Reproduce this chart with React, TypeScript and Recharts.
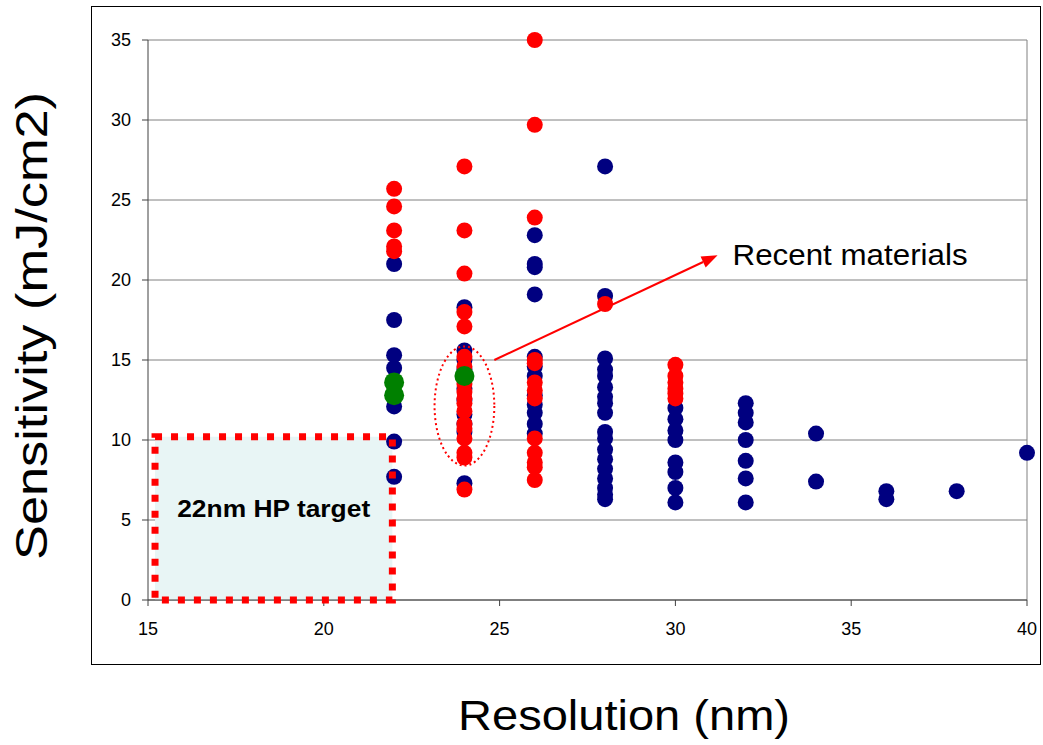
import { ScatterChart, Scatter, XAxis, YAxis, CartesianGrid, ReferenceArea, ReferenceLine } from 'recharts';

const FONT = '"Liberation Sans", Arial, sans-serif';

const resolutionTicks = [15, 20, 25, 30, 35, 40];
const sensitivityTicks = [0, 5, 10, 15, 20, 25, 30, 35];

// earlier resists: resolution column (nm) -> measured sensitivities (mJ/cm2)
const earlierRes = [22, 24, 26, 28, 30, 32, 34, 36, 38, 40];
const earlierSens = [
  [21.0, 17.5, 15.3, 14.5, 12.1, 9.9, 7.7],
  [18.3, 15.6, 15.0, 14.4, 13.2, 12.5, 11.6, 11.0, 10.5, 7.3],
  [22.8, 21.0, 20.8, 19.1, 15.2, 14.6, 14.0, 12.8, 12.2, 11.7, 11.0, 10.4],
  [27.1, 19.0, 15.1, 14.4, 14.0, 13.3, 12.7, 12.3, 11.7, 10.5, 10.1, 9.4, 8.8, 8.2, 7.6, 7.0, 6.6, 6.3],
  [12.0, 11.3, 10.6, 10.0, 8.6, 8.0, 7.0, 6.1],
  [12.3, 11.7, 11.1, 10.0, 8.7, 7.6, 6.1],
  [10.4, 7.4],
  [6.8, 6.3],
  [6.8],
  [9.2],
];

// recent materials
const recentRes = [22, 24, 26, 28, 30];
const recentSens = [
  [25.7, 24.6, 23.1, 22.1, 21.8],
  [27.1, 23.1, 20.4, 18.0, 17.1, 15.2, 14.6, 13.5, 13.0, 12.6, 12.3, 11.8, 11.0, 10.7, 10.1, 9.2, 8.9, 6.9],
  [35.0, 29.7, 23.9, 15.0, 14.8, 13.6, 13.1, 12.6, 10.1, 9.2, 8.6, 8.3, 7.5],
  [18.5],
  [14.7, 14.0, 13.6, 13.2, 12.9, 12.6],
];

// best performers
const bestRes = [22, 24];
const bestSens = [[13.6, 12.8], [14.0]];

// annotation extents in data units
const targetBoxRes = [15.2, 21.95];
const targetBoxSens = [0, 10.2];
const highlightRes = [23.15, 24.85];
const highlightSens = [8.4, 15.85];
const arrowFrom = { x: 24.85, y: 15.0 };
const arrowTo = { x: 31.2, y: 21.55 };

const toPoints = (xs: number[], ys: number[][]) =>
  xs.flatMap((x, i) => ys[i].map((y) => ({ x, y })));

const earlierData = toPoints(earlierRes, earlierSens);
const recentData = toPoints(recentRes, recentSens);
const bestData = toPoints(bestRes, bestSens);

const dot = (color: string, r: number) => (p: any) => <circle cx={p.cx} cy={p.cy} r={r} fill={color} />;

// tick labels drawn by hand so the font size sticks
const XTick = (p: any) => (
  <text x={p.x} y={p.y + 27} textAnchor="middle" fontSize={18} fontFamily={FONT} fill="#000">
    {p.payload.value}
  </text>
);

const YTick = (p: any) => (
  <text x={p.x - 3} y={p.y + 6} textAnchor="end" fontSize={18} fontFamily={FONT} fill="#000">
    {p.payload.value}
  </text>
);

const Arrow = (p: any) => {
  const { x1, y1, x2, y2 } = p;
  const a = Math.atan2(y2 - y1, x2 - x1);
  const len = 16;
  const half = 6;
  const bx = x2 - len * Math.cos(a);
  const by = y2 - len * Math.sin(a);
  const pts = [
    `${x2},${y2}`,
    `${bx + half * Math.sin(a)},${by - half * Math.cos(a)}`,
    `${bx - half * Math.sin(a)},${by + half * Math.cos(a)}`,
  ].join(' ');
  return (
    <g>
      <line x1={x1} y1={y1} x2={bx} y2={by} stroke="#ff0000" strokeWidth={2} />
      <polygon points={pts} fill="#ff0000" />
      <text x={x2 + 15} y={y2 + 10} fontSize={30} fontFamily={FONT} fill="#000" textLength={235} lengthAdjust="spacingAndGlyphs">
        Recent materials
      </text>
    </g>
  );
};

const TargetBorder = (p: any) => (
  <g>
    <rect x={p.x} y={p.y} width={p.width} height={p.height} fill="none" stroke="#ff0000" strokeWidth={7} strokeDasharray="7 9" />
    <text x={p.x + p.width / 2} y={p.y + p.height / 2 - 1} textAnchor="middle" fontSize={24} fontWeight="bold" fontFamily={FONT} fill="#000" textLength={193} lengthAdjust="spacingAndGlyphs">
      22nm HP target
    </text>
  </g>
);

const Ellipse = (p: any) => (
  <ellipse
    cx={p.x + p.width / 2}
    cy={p.y + p.height / 2}
    rx={p.width / 2}
    ry={p.height / 2}
    fill="none"
    stroke="#ff0000"
    strokeWidth={2}
    strokeDasharray="2 3"
  />
);

export default function App() {
  return (
    <div style={{ position: 'absolute', left: 0, top: 0, width: 1043, height: 745, background: '#fff', fontFamily: FONT }}>
      <div style={{ position: 'absolute', left: 91, top: 6, width: 950, height: 659, border: '1px solid #000', boxSizing: 'border-box' }} />
      <div style={{ position: 'absolute', left: 0, top: 0 }}>
        <ScatterChart width={1043} height={745} margin={{ top: 40, right: 16, bottom: 115, left: 88 }}>
          <CartesianGrid vertical={false} stroke="#808080" strokeWidth={1} />
          <ReferenceArea x1={targetBoxRes[0]} x2={targetBoxRes[1]} y1={targetBoxSens[0]} y2={targetBoxSens[1]} fill="#e8f5f5" fillOpacity={1} stroke="none" zIndex={50} />
          <XAxis
            type="number"
            dataKey="x"
            domain={[15, 40]}
            ticks={resolutionTicks}
            height={30}
            stroke="#404040"
            tickSize={6}
            tickMargin={2}
            tick={XTick}
          />
          <YAxis
            type="number"
            dataKey="y"
            domain={[0, 35]}
            ticks={sensitivityTicks}
            width={60}
            stroke="#404040"
            tickSize={6}
            tickMargin={8}
            tick={YTick}
          />
          <ReferenceLine x={40} stroke="#808080" />
          <Scatter data={earlierData} fill="#000080" shape={dot('#000080', 8)} isAnimationActive={false} />
          <Scatter data={recentData} fill="#ff0000" shape={dot('#ff0000', 8)} isAnimationActive={false} />
          <Scatter data={bestData} fill="#008000" shape={dot('#008000', 10)} isAnimationActive={false} />
          <ReferenceArea x1={targetBoxRes[0]} x2={targetBoxRes[1]} y1={targetBoxSens[0]} y2={targetBoxSens[1]} shape={TargetBorder} zIndex={900} />
          <ReferenceArea x1={highlightRes[0]} x2={highlightRes[1]} y1={highlightSens[0]} y2={highlightSens[1]} shape={Ellipse} zIndex={900} />
          <ReferenceLine segment={[arrowFrom, arrowTo]} shape={Arrow} zIndex={900} />
          <text x={47} y={326} transform="rotate(-90 47 326)" textAnchor="middle" fontSize={44} fontFamily={FONT} fill="#000" textLength={468} lengthAdjust="spacingAndGlyphs">
            Sensitivity (mJ/cm2)
          </text>
          <text x={624} y={730} textAnchor="middle" fontSize={42} fontFamily={FONT} fill="#000" textLength={332} lengthAdjust="spacingAndGlyphs">
            Resolution (nm)
          </text>
        </ScatterChart>
      </div>
    </div>
  );
}
